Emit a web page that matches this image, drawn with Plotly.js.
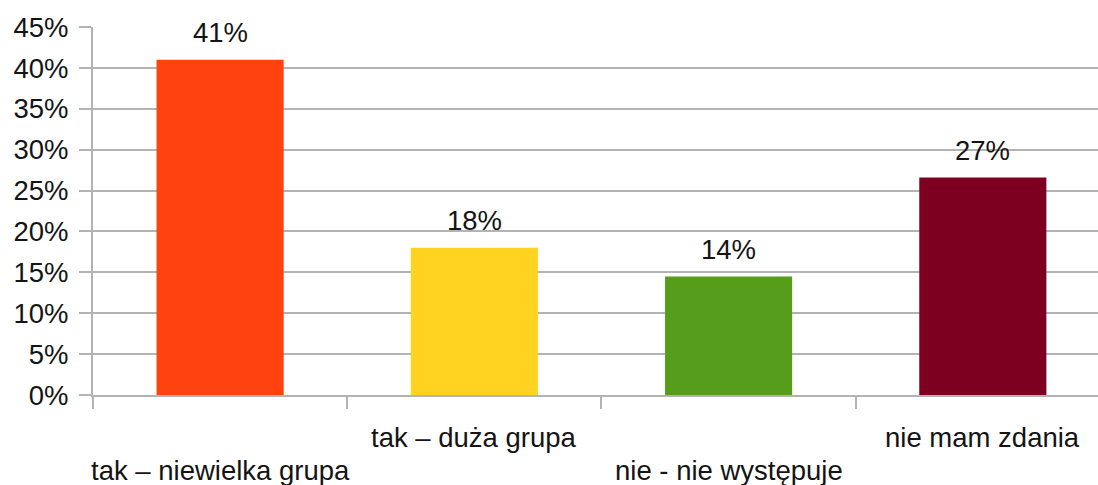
<!DOCTYPE html>
<html>
<head>
<meta charset="utf-8">
<script src="https://cdn.plot.ly/plotly-3.0.1.min.js"></script>
<style>html,body{margin:0;padding:0;background:#fff;}#chart{width:1098px;height:485px;}</style>
</head>
<body>
<div id="chart"></div>
<script>
const categories = ['tak – niewielka grupa', 'tak – duża grupa', 'nie - nie występuje', 'nie mam zdania'];
const values = [41.0, 18.0, 14.5, 26.6];
const colors = ['#FF420E', '#FFD320', '#579D1C', '#7E0021'];
const yTickVals = [0, 5, 10, 15, 20, 25, 30, 35, 40, 45];
const yTickText = yTickVals.map(v => v + '%');

const font = 'Liberation Sans, Arial, sans-serif';
const txtColor = '#141414';
const fs = 27.5;

const trace = {
  type: 'bar',
  x: categories,
  y: values,
  marker: {color: colors, line: {width: 0}},
  hoverinfo: 'skip'
};

const annotations = [];
values.forEach((v, i) => {
  annotations.push({
    x: categories[i], y: v, xref: 'x', yref: 'y',
    text: Math.floor(v + 0.45) + '%', showarrow: false,
    yanchor: 'middle', yshift: 27,
    font: {family: font, size: fs, color: txtColor}
  });
  annotations.push({
    x: categories[i], y: 0, xref: 'x', yref: 'y',
    text: categories[i], showarrow: false,
    yanchor: 'middle', yshift: (i % 2 === 0) ? -75 : -42,
    font: {family: font, size: fs, color: txtColor}
  });
});

const layout = {
  width: 1098, height: 485,
  margin: {l: 93, r: 0, t: 27, b: 90},
  paper_bgcolor: '#fff', plot_bgcolor: '#fff',
  bargap: 0.5,
  showlegend: false,
  xaxis: {
    type: 'category',
    range: [-0.5, 3.453],
    showticklabels: false,
    tickson: 'boundaries',
    ticks: 'outside', ticklen: 12, tickwidth: 2, tickcolor: '#b3b3b3',
    showline: true, linecolor: '#b3b3b3', linewidth: 2,
    showgrid: false, zeroline: false
  },
  yaxis: {
    range: [0, 45],
    tickvals: yTickVals, ticktext: yTickText,
    ticks: 'outside', ticklen: 12, tickwidth: 2, tickcolor: '#b3b3b3',
    ticklabelstandoff: 5,
    showline: true, linecolor: '#b3b3b3', linewidth: 2,
    showgrid: true, gridcolor: '#b3b3b3', gridwidth: 2,
    zeroline: false,
    tickfont: {family: font, size: fs, color: txtColor}
  },
  annotations: annotations
};

Plotly.newPlot('chart', [trace], layout, {displayModeBar: false, staticPlot: true});
</script>
</body>
</html>
